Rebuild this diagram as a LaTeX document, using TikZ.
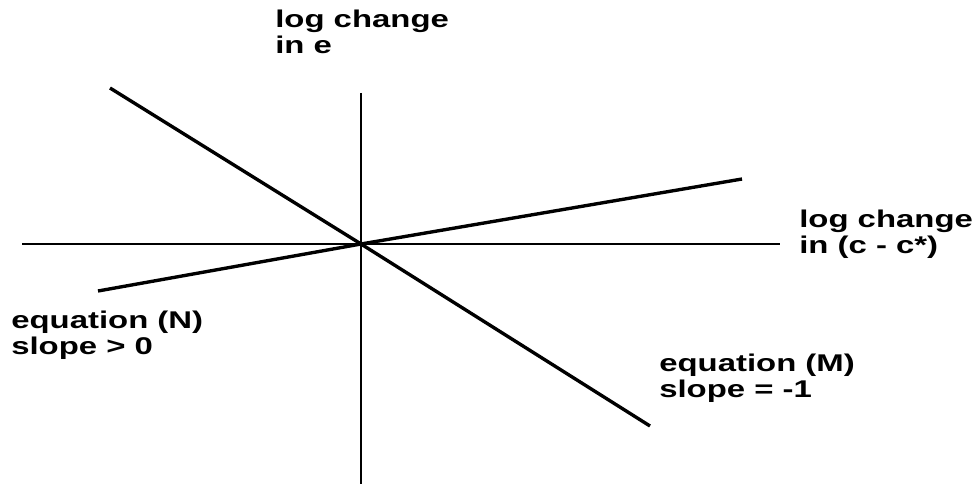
\documentclass[tikz,border=0pt]{standalone}
\usepackage{fontspec}
\setmainfont{Liberation Sans}[FakeStretch=1.36]

\begin{document}
\begin{tikzpicture}[x=0.025cm, y=-0.025cm,
    axis/.style={line width=1.5pt},
    curve/.style={line width=2.4pt},
    lbl/.style={font=\fontsize{17.2}{18.4}\selectfont\bfseries, align=left,
                anchor=north west, inner sep=0pt}]
    \useasboundingbox (0,0) rectangle (980,486);

    % Axes
    \coordinate (O) at (361,244);
    \coordinate (ytop) at (361,93);
    \coordinate (ybot) at (361,484);
    \coordinate (xleft) at (22,244);
    \coordinate (xright) at (780,244);
    \draw[axis] (ytop) -- (ybot);
    \draw[axis] (xleft) -- (xright);

    % Equation lines
    \coordinate (Mstart) at (110,88);
    \coordinate (Mend) at (650,426);
    \coordinate (Nstart) at (98,291);
    \coordinate (Nend) at (742,179);
    \draw[curve] (Mstart) -- (O) -- (Mend);
    \draw[curve] (Nstart) -- (O) -- (Nend);

    % Labels
    \node[lbl] (ylabel) at (275,10) {log change\\in e};
    \node[lbl] (xlabel) at (799,210) {log change\\in (c - c*)};
    \node[lbl] (Nlabel) at (11,311) {equation (N)\\slope > 0};
    \node[lbl] (Mlabel) at (659,354) {equation (M)\\slope = -1};
\end{tikzpicture}
\end{document}
